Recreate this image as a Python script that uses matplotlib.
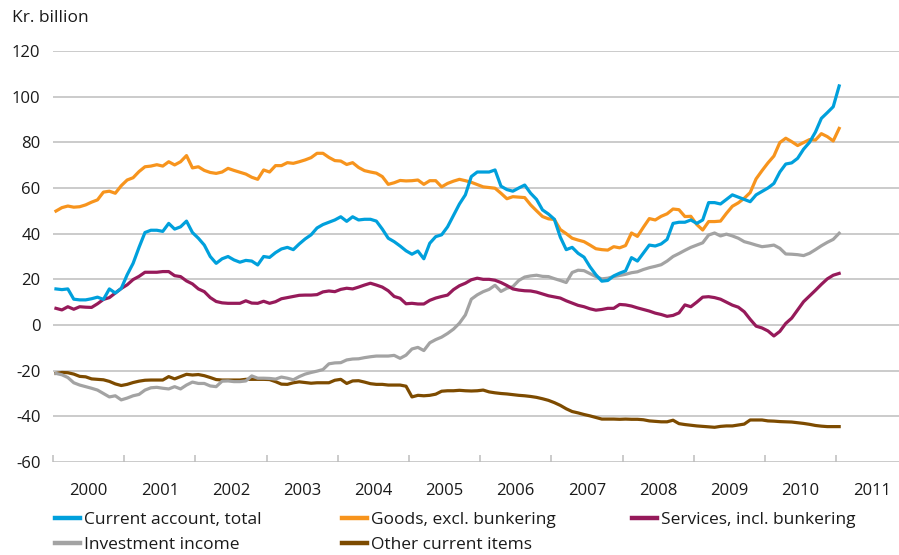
import numpy as np
import matplotlib
matplotlib.use("Agg")
import matplotlib.pyplot as plt
from matplotlib.lines import Line2D

plt.rcParams['font.family'] = ['Open Sans', 'DejaVu Sans']

# monthly observations, Jan 2000 - Jan 2011, kr. billion
current_account = [
    15.8, 15.5, 15.8, 11.3, 11.0, 11.0, 11.5, 12.2, 11.2, 15.8, 14.0, 16.0,
    22.0, 27.0, 34.0, 40.5, 41.5, 41.5, 41.0, 44.5, 42.0, 43.0, 45.5, 40.5,
    38.0, 35.0, 30.0, 27.0, 29.0, 30.0, 28.5, 27.5, 28.3, 28.0, 26.3, 30.0,
    29.6, 31.7, 33.3, 34.0, 33.0, 35.5, 37.7, 39.5, 42.5, 44.0, 45.0, 46.0,
    47.4, 45.4, 47.4, 46.0, 46.3, 46.3, 45.5, 42.0, 38.0, 36.5, 34.6, 32.5,
    31.0, 32.4, 29.0, 35.8, 38.7, 39.5, 43.0, 48.0, 53.0, 57.0, 65.0, 67.0,
    67.0, 67.0, 67.9, 60.8, 59.3, 58.6, 60.0, 61.3, 57.7, 55.0, 50.4, 48.6,
    46.3, 38.5, 33.0, 34.0, 31.4, 29.7, 25.5, 22.0, 19.2, 19.5, 21.5, 22.7,
    23.7, 29.5, 28.0, 31.5, 35.0, 34.6, 35.5, 37.5, 44.5, 45.0, 45.0, 46.0,
    44.5, 46.0, 53.6, 53.6, 53.0, 55.0, 57.0, 56.0, 55.0, 54.0, 57.0, 58.5,
    60.0, 62.0, 67.0, 70.5, 71.0, 73.0, 77.0, 80.0, 84.5, 90.5, 93.0, 95.6,
    104.7]

goods = [
    49.9, 51.4, 52.1, 51.6, 51.8, 52.6, 53.8, 54.8, 58.2, 58.6, 57.7, 61.0,
    63.5, 64.5, 67.2, 69.3, 69.6, 70.2, 69.6, 71.5, 70.1, 71.5, 74.2, 68.8,
    69.3, 67.7, 66.8, 66.4, 67.0, 68.6, 67.7, 66.9, 66.1, 64.7, 63.8, 67.9,
    67.0, 69.8, 69.8, 71.1, 70.8, 71.5, 72.3, 73.3, 75.2, 75.2, 73.4, 72.0,
    71.8, 70.3, 71.1, 69.0, 67.6, 67.0, 66.5, 65.0, 61.6, 62.3, 63.3, 63.1,
    63.2, 63.5, 61.6, 63.2, 63.2, 60.5, 62.0, 63.0, 63.8, 63.2, 62.5, 61.5,
    60.5, 60.2, 59.9, 57.7, 55.3, 56.2, 56.0, 55.8, 52.6, 50.0, 47.5, 46.5,
    46.2, 41.8, 40.0, 38.0, 37.2, 36.5, 35.0, 33.4, 33.0, 32.8, 34.3, 33.8,
    34.8, 40.3, 38.8, 42.8, 46.6, 46.0, 47.6, 48.7, 50.8, 50.5, 47.5, 47.6,
    44.0, 41.6, 45.3, 45.3, 45.5, 48.9, 52.0, 53.5, 55.5, 58.0, 64.0, 67.6,
    71.0, 74.0, 79.9, 81.8, 80.3, 78.6, 79.9, 81.2, 81.0, 83.8, 82.5, 80.6,
    86.1]

services = [
    7.3, 6.6, 8.0, 6.9, 8.0, 7.8, 7.7, 9.3, 11.2, 12.0, 14.0, 16.0,
    17.6, 19.9, 21.3, 23.1, 23.1, 23.1, 23.4, 23.4, 21.6, 21.2, 19.3, 18.0,
    15.8, 14.6, 12.0, 10.3, 9.7, 9.5, 9.5, 9.5, 10.6, 9.6, 9.5, 10.4,
    9.5, 10.2, 11.5, 12.0, 12.5, 13.0, 13.1, 13.1, 13.3, 14.5, 14.9, 14.6,
    15.6, 16.1, 15.8, 16.6, 17.5, 18.3, 17.5, 16.6, 15.0, 12.5, 11.7, 9.3,
    9.5, 9.2, 9.2, 10.8, 11.8, 12.5, 13.1, 15.5, 17.2, 18.3, 19.8, 20.5,
    20.0, 20.0, 19.6, 18.6, 17.3, 15.8, 15.3, 15.0, 14.9, 14.4, 13.6, 12.8,
    12.3, 11.8, 10.6, 9.6, 8.6, 8.0, 7.1, 6.5, 6.8, 7.3, 7.3, 9.0,
    8.8, 8.3, 7.5, 6.8, 6.1, 5.2, 4.6, 3.8, 4.2, 5.3, 8.8, 8.0,
    10.0, 12.2, 12.4, 12.0, 11.3, 10.0, 8.7, 7.8, 5.8, 2.5, -0.5, -1.3,
    -2.6, -4.8, -2.8, 0.7, 3.0, 6.6, 10.2, 12.7, 15.2, 17.8, 20.2, 21.8,
    22.6]

investment = [
    -21.2, -21.8, -23.0, -25.3, -26.3, -27.0, -27.7, -28.5, -30.0, -31.5, -31.0, -32.8,
    -32.0, -31.0, -30.4, -28.5, -27.5, -27.3, -27.7, -28.0, -27.0, -28.0, -26.3, -25.0,
    -25.6, -25.6, -26.7, -27.0, -24.6, -24.5, -24.8, -24.8, -24.5, -22.3, -23.3, -23.3,
    -23.4, -23.7, -22.8, -23.3, -24.0, -22.6, -21.5, -20.8, -20.2, -19.5, -17.0, -16.6,
    -16.5, -15.3, -14.9, -14.8, -14.3, -13.9, -13.6, -13.6, -13.6, -13.3, -14.6, -13.2,
    -10.5, -9.8, -11.2, -7.8, -6.4, -5.3, -3.7, -1.8, 0.8, 4.4, 11.3, 13.2,
    14.6, 15.6, 17.4, 14.7, 16.1, 16.8, 19.5, 21.0, 21.5, 21.8, 21.3, 21.2,
    20.3, 19.5, 18.6, 23.0, 24.0, 23.8, 22.5, 21.2, 20.2, 20.5, 21.2, 21.7,
    22.2, 22.9, 23.3, 24.3, 25.1, 25.7, 26.4, 28.0, 30.0, 31.3, 32.7, 34.0,
    35.0, 36.0, 39.4, 40.3, 39.0, 39.8, 39.0, 38.0, 36.5, 35.8, 35.0, 34.3,
    34.6, 35.0, 33.6, 31.1, 31.0, 30.8, 30.4, 31.4, 33.0, 34.7, 36.2, 37.5,
    40.2]

other = [
    -21.2, -20.8, -20.9, -21.5, -22.5, -22.7, -23.6, -23.8, -24.0, -24.7, -25.8, -26.5,
    -26.0, -25.2, -24.6, -24.2, -24.1, -24.1, -24.1, -22.6, -23.6, -22.6, -21.6, -21.9,
    -21.7, -22.2, -23.0, -23.9, -24.1, -24.1, -24.1, -24.1, -23.8, -23.8, -23.8, -23.8,
    -23.9, -24.8, -25.9, -26.0, -25.3, -24.9, -25.2, -25.5, -25.3, -25.3, -25.3, -24.2,
    -23.8, -25.6, -24.5, -24.4, -25.0, -25.7, -26.0, -26.0, -26.3, -26.3, -26.3, -26.8,
    -31.5, -30.8, -31.0, -30.8, -30.3, -29.0, -28.8, -28.8, -28.6, -28.8, -28.9, -28.8,
    -28.5, -29.3, -29.7, -30.0, -30.2, -30.5, -30.8, -31.0, -31.3, -31.7, -32.3, -33.0,
    -34.0, -35.2, -36.7, -37.9, -38.5, -39.2, -39.8, -40.5, -41.2, -41.2, -41.2, -41.3,
    -41.2, -41.3, -41.3, -41.5, -42.0, -42.2, -42.4, -42.4, -41.7, -43.2, -43.6, -43.9,
    -44.2, -44.4, -44.6, -44.8, -44.4, -44.2, -44.2, -43.8, -43.4, -41.6, -41.6, -41.6,
    -42.0, -42.1, -42.3, -42.4, -42.5, -42.8, -43.1, -43.5, -44.0, -44.3, -44.5, -44.5,
    -44.5]

years = list(range(2000, 2012))
yticks = list(range(-60, 121, 20))

series = [
    ("Current account, total", current_account, "#00a0dc"),
    ("Goods, excl. bunkering", goods, "#f7941d"),
    ("Services, incl. bunkering", services, "#961a5a"),
    ("Investment income", investment, "#a3a3a3"),
    ("Other current items", other, "#7d4b00"),
]

months = 2000 + (np.arange(len(current_account)) + 0.5) / 12

fig = plt.figure(figsize=(8.99, 5.55), dpi=100)
ax = fig.add_axes([53 / 899, 1 - 462 / 555, 1 - 53 / 899, 411 / 555])

for y in yticks:
    ax.axhline(y, color="#bdbdbd", lw=1.1, zorder=0)

# draw in reverse so the total sits on top
for name, vals, col in series[::-1]:
    ax.plot(months, vals, color=col, lw=2.3, solid_joinstyle="round", zorder=2)

ax.set_xlim(2000, 2000 + 846 / 71.2)
ax.set_ylim(-60, 120)
for s in ax.spines.values():
    s.set_visible(False)

ax.set_yticks(yticks)
ax.set_yticklabels([str(v) for v in yticks], fontsize=12, color="#1a1a1a")
ax.tick_params(axis="y", length=0, pad=9)

ax.set_xticks(years, labels=[])
ax.tick_params(axis="x", which="major", direction="in", length=5, color="#bdbdbd", width=1.1)
ax.set_xticks([y + 0.5 for y in years], minor=True)
ax.set_xticklabels([str(y) for y in years], minor=True, fontsize=12, color="#1a1a1a")
ax.tick_params(axis="x", which="minor", length=0, pad=15)

fig.text(12 / 899, 1 - 18 / 555, "Kr. billion", fontsize=12.5, color="#1a1a1a", va="center", ha="left")

cols = [[series[0], series[3]], [series[1], series[4]], [series[2]]]
col_x = [55, 342, 632]
for cx, items in zip(col_x, cols):
    handles = [Line2D([], [], color=c, lw=3.2) for _, _, c in items]
    labels = [n for n, _, _ in items]
    leg = fig.legend(handles, labels, loc="upper left",
                     bbox_to_anchor=(cx / 899, 1 - 512 / 555),
                     frameon=False, fontsize=12.5, handlelength=1.45,
                     handletextpad=0.2, labelspacing=0.5, borderpad=0,
                     borderaxespad=0)
    for t in leg.get_texts():
        t.set_color("#1a1a1a")

fig.savefig("out.png", dpi=100)
